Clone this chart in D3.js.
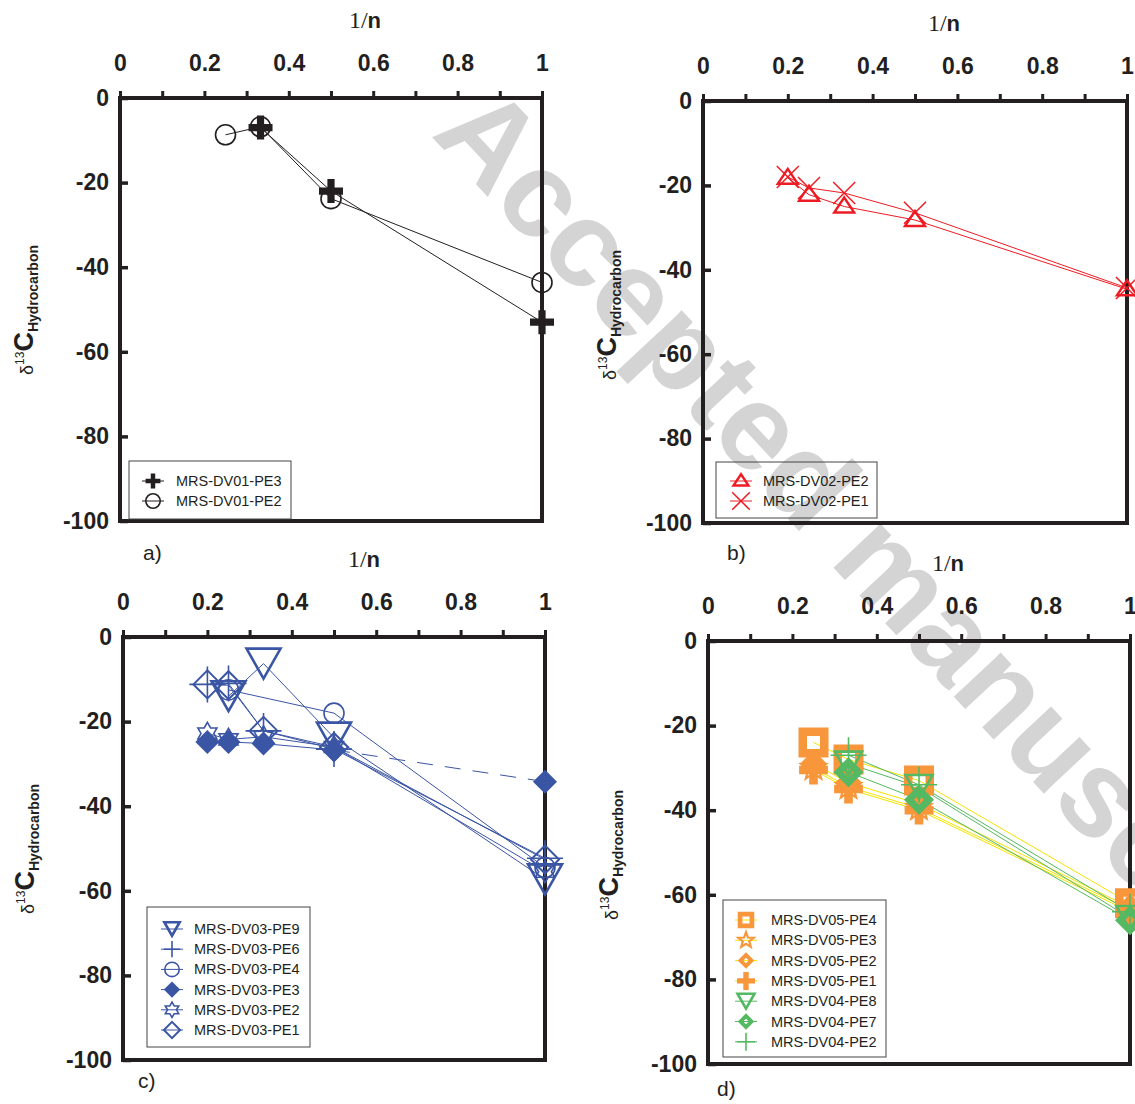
<!DOCTYPE html>
<html><head><meta charset="utf-8">
<script src="https://cdn.jsdelivr.net/npm/d3@7"></script>
<style>body{margin:0;background:#fff}svg{display:block}</style>
</head><body>
<svg id="chart" width="1135" height="1104"></svg>
<script>
// ---------- data ----------
const xTickValues = [0, 0.2, 0.4, 0.6, 0.8, 1];
const xMinorValues = [0, 0.1, 0.2, 0.3, 0.4, 0.5, 0.6, 0.7, 0.8, 0.9, 1];
const yTickValues = [0, -20, -40, -60, -80, -100];
const panelTags = ["a)", "b)", "c)", "d)"];
const watermarkText = "Accepted manuscript";

// panel a
const a_DV01_PE3 = [[0.333, -7], [0.5, -22], [1, -53]];
const a_DV01_PE2 = [[0.25, -8.7], [0.333, -6.8], [0.5, -23.8], [1, -43.6]];
// panel b
const b_DV02_PE2 = [[0.2, -18.2], [0.25, -22.2], [0.333, -25], [0.5, -28.2], [1, -44.6]];
const b_DV02_PE1 = [[0.2, -18], [0.25, -20.6], [0.333, -21.8], [0.5, -26.5], [1, -44.3]];
// panel c
const c_DV03_PE9 = [[0.25, -14], [0.333, -6.3], [0.5, -23.8], [1, -57.3]];
const c_DV03_PE6 = [[0.2, -11.2], [0.25, -11], [0.333, -22.2], [0.5, -26.5], [1, -52.3]];
const c_DV03_PE4 = [[0.25, -12.5], [0.5, -18], [1, -54.5]];
const c_DV03_PE3 = [[0.2, -24.8], [0.25, -24.8], [0.333, -25.2], [0.5, -26.7], [1, -34.2]];
const c_DV03_PE2 = [[0.2, -22.8], [0.25, -24.2], [0.333, -23.6], [0.5, -26], [1, -55.5]];
const c_DV03_PE1 = [[0.2, -11.2], [0.25, -11.4], [0.333, -22.2], [0.5, -26], [1, -52.6]];
// panel d
const d_DV05_PE4 = [[0.25, -24], [0.333, -28], [0.5, -33], [1, -62]];
const d_DV05_PE3 = [[0.25, -30], [0.333, -34.5], [0.5, -39.5], [1, -63.5]];
const d_DV05_PE2 = [[0.25, -29], [0.333, -33.5], [0.5, -38.5], [1, -63]];
const d_DV05_PE1 = [[0.25, -30.5], [0.333, -35], [0.5, -40], [1, -64]];
const d_DV04_PE8 = [[0.333, -29], [0.5, -34.5], [1, -65.5]];
const d_DV04_PE7 = [[0.333, -31], [0.5, -37.5], [1, -66]];
const d_DV04_PE2 = [[0.333, -27], [0.5, -34], [1, -64]];

// ---------- styles ----------
const INK = "#231f20", RED = "#ed1c24", BLUE = "#3a55a4", ORANGE = "#f7963a", YELLOW = "#f5e400", GREEN = "#55b862";
const SANS = "'Liberation Sans', Arial, sans-serif";
const SERIF = "'Liberation Serif', 'Times New Roman', serif";

const panels = [
  { frame: {x0:120, x1:542, y0:98, y1:521}, titleX:365, ylab:{x:33, y:310}, tag:{x:143, y:560},
    legend:{x:129, y:461, w:162, h:58, row0:481, dy:20, symX:153, textX:176},
    series: [
      {name:"MRS-DV01-PE3", data:a_DV01_PE3, type:"plusBold", color:INK, line:INK, size:1, lsize:0.62},
      {name:"MRS-DV01-PE2", data:a_DV01_PE2, type:"circle", color:INK, line:INK, size:1, lsize:0.72},
    ]},
  { frame: {x0:703, x1:1127, y0:101, y1:523}, titleX:944, ylab:{x:616, y:315}, tag:{x:727, y:560},
    legend:{x:716, y:462, w:161, h:56, row0:481, dy:20, symX:741, textX:763},
    series: [
      {name:"MRS-DV02-PE2", data:b_DV02_PE2, type:"triUp", color:RED, line:RED, size:1, lsize:0.75},
      {name:"MRS-DV02-PE1", data:b_DV02_PE1, type:"xCross", color:RED, line:RED, size:1, lsize:0.8},
    ]},
  { frame: {x0:123, x1:545, y0:637, y1:1060}, titleX:364, ylab:{x:34, y:849}, tag:{x:138, y:1088},
    legend:{x:147, y:907, w:163, h:140, row0:929, dy:20.2, symX:172, textX:194},
    series: [
      {name:"MRS-DV03-PE9", data:c_DV03_PE9, type:"triDown", color:BLUE, line:BLUE, size:1, lsize:0.45},
      {name:"MRS-DV03-PE6", data:c_DV03_PE6, type:"plusThin", color:BLUE, line:BLUE, size:1, lsize:0.45},
      {name:"MRS-DV03-PE4", data:c_DV03_PE4, type:"circle", color:BLUE, line:BLUE, size:1, lsize:0.72},
      {name:"MRS-DV03-PE3", data:c_DV03_PE3, type:"diamondFilled", color:BLUE, line:BLUE, size:1, lsize:0.68, dashLast:true},
      {name:"MRS-DV03-PE2", data:c_DV03_PE2, type:"star6", color:BLUE, line:BLUE, size:1, lsize:0.7},
      {name:"MRS-DV03-PE1", data:c_DV03_PE1, type:"diamondOpen", color:BLUE, line:BLUE, size:1, lsize:0.58},
    ]},
  { frame: {x0:708, x1:1130, y0:641, y1:1064}, titleX:948, ylab:{x:618, y:855}, tag:{x:717, y:1096},
    legend:{x:723, y:900, w:163, h:157, row0:920, dy:20.3, symX:746, textX:771},
    series: [
      {name:"MRS-DV05-PE4", data:d_DV05_PE4, type:"squareThick", color:ORANGE, line:YELLOW, size:1, lsize:0.55},
      {name:"MRS-DV05-PE3", data:d_DV05_PE3, type:"star5", color:ORANGE, line:YELLOW, size:1, lsize:0.62},
      {name:"MRS-DV05-PE2", data:d_DV05_PE2, type:"diamondHole", color:ORANGE, line:YELLOW, size:0.9, lsize:0.55},
      {name:"MRS-DV05-PE1", data:d_DV05_PE1, type:"plusBold", color:ORANGE, line:YELLOW, size:1.2, lsize:0.75},
      {name:"MRS-DV04-PE8", data:d_DV04_PE8, type:"triDown", color:GREEN, line:GREEN, size:0.8, lsize:0.5},
      {name:"MRS-DV04-PE7", data:d_DV04_PE7, type:"diamondHole", color:GREEN, line:GREEN, size:1, lsize:0.55},
      {name:"MRS-DV04-PE2", data:d_DV04_PE2, type:"plusThin", color:GREEN, line:GREEN, size:1, lsize:0.5},
    ]},
];
// draw order of markers (indices) per panel
const markerOrder = [[1,0],[0,1],[0,2,1,4,5,3],[3,2,1,0,4,6,5]];

// ---------- drawing ----------
const svg = d3.select("#chart");

// watermark (behind everything)
svg.append("text")
  .attr("transform", "translate(430,135) rotate(47)")
  .attr("font-family", SANS).attr("font-weight", "bold").attr("font-size", 122)
  .attr("fill", "#d4d4d4").text(watermarkText);

function starPath(n, R, r) {
  let p = [];
  for (let i = 0; i < 2 * n; i++) {
    const a = -Math.PI / 2 + i * Math.PI / n;
    const rr = i % 2 === 0 ? R : r;
    p.push([rr * Math.cos(a), rr * Math.sin(a)]);
  }
  return "M" + p.map(q => q[0].toFixed(2) + "," + q[1].toFixed(2)).join("L") + "Z";
}

function drawMarker(g, type, cx, cy, s, color) {
  const m = g.append("g").attr("transform", `translate(${cx},${cy})`);
  switch (type) {
    case "plusBold": {
      const L = 12 * s, T = 3.6 * s;
      m.append("path").attr("d", `M${-L},${-T}H${L}V${T}H${-L}Z M${-T},${-L}H${T}V${L}H${-T}Z`).attr("fill", color);
      break; }
    case "circle":
      m.append("circle").attr("r", 10 * s).attr("fill", "none").attr("stroke", color).attr("stroke-width", 1.6);
      break;
    case "triUp":
      m.append("path").attr("d", `M0,${-9 * s}L${10 * s},${6 * s}L${-10 * s},${6 * s}Z`)
        .attr("fill", "none").attr("stroke", color).attr("stroke-width", 2.4);
      break;
    case "xCross": {
      const d = 11 * s;
      m.append("path").attr("d", `M${-d},${-d}L${d},${d}M${-d},${d}L${d},${-d}`)
        .attr("stroke", color).attr("stroke-width", 1.5);
      break; }
    case "triDown":
      m.append("path").attr("d", `M${-17 * s},${-15 * s}L${17 * s},${-15 * s}L0,${15 * s}Z`)
        .attr("fill", "none").attr("stroke", color).attr("stroke-width", 2.6);
      break;
    case "plusThin": {
      const L = 18 * s;
      m.append("path").attr("d", `M${-L},0H${L}M0,${-L}V${L}`).attr("stroke", color).attr("stroke-width", 1.6);
      break; }
    case "diamondFilled": {
      const h = 12 * s;
      m.append("path").attr("d", `M0,${-h}L${h},0L0,${h}L${-h},0Z`).attr("fill", color);
      break; }
    case "star6":
      m.append("path").attr("d", starPath(6, 11 * s, 6.4 * s)).attr("fill", "none")
        .attr("stroke", color).attr("stroke-width", 1.6);
      break;
    case "diamondOpen": {
      const w = 14 * s, h = 14 * s;
      m.append("path").attr("d", `M0,${-h}L${w},0L0,${h}L${-w},0Z`).attr("fill", "none")
        .attr("stroke", color).attr("stroke-width", 2);
      break; }
    case "squareThick": {
      const o = 15 * s, i = 6.5 * s;
      m.append("path").attr("d", `M${-o},${-o}H${o}V${o}H${-o}Z M${-i},${-i}V${i}H${i}V${-i}Z`)
        .attr("fill", color).attr("fill-rule", "evenodd");
      break; }
    case "diamondHole": {
      const o = 15 * s, i = 5 * s;
      m.append("path").attr("d", `M0,${-o}L${o},0L0,${o}L${-o},0Z M0,${-i}L${-i},0L0,${i}L${i},0Z`)
        .attr("fill", color).attr("fill-rule", "evenodd");
      break; }
    case "star5":
      m.append("path").attr("d", starPath(5, 13 * s, 5.5 * s)).attr("fill", "none")
        .attr("stroke", color).attr("stroke-width", 2.2);
      break;
  }
}

panels.forEach((p, pi) => {
  const f = p.frame;
  const x = d3.scaleLinear().domain([0, 1]).range([f.x0, f.x1]);
  const y = d3.scaleLinear().domain([0, -100]).range([f.y0, f.y1]);
  const g = svg.append("g");

  // top x axis: minor ticks outward
  const xAxis = d3.axisTop(x).tickValues(xMinorValues).tickSize(7).tickFormat("");
  const gx = g.append("g").attr("transform", `translate(0,${f.y0})`).call(xAxis);
  gx.select(".domain").remove();
  gx.selectAll(".tick line").attr("stroke", INK).attr("stroke-width", 3);
  // x tick labels
  const xLab = d3.axisTop(x).tickValues(xTickValues).tickSize(0).tickPadding(27).tickFormat(d3.format("~g"));
  const gxl = g.append("g").attr("transform", `translate(0,${f.y0})`).call(xLab);
  gxl.select(".domain").remove();
  gxl.selectAll(".tick text").attr("font-family", SANS).attr("font-weight", "bold")
     .attr("font-size", 23).attr("fill", INK);

  // left y axis: inward ticks
  const yAxis = d3.axisLeft(y).tickValues(yTickValues).tickSize(-8).tickPadding(11).tickFormat(d3.format("d"));
  const gy = g.append("g").attr("transform", `translate(${f.x0},0)`).call(yAxis);
  gy.select(".domain").remove();
  gy.selectAll(".tick line").attr("stroke", INK).attr("stroke-width", 3.5);
  gy.selectAll(".tick text").attr("font-family", SANS).attr("font-weight", "bold")
     .attr("font-size", 23).attr("fill", INK).text(d => d === 0 ? "0" : "-" + Math.abs(d));

  // frame
  g.append("rect").attr("x", f.x0).attr("y", f.y0).attr("width", f.x1 - f.x0).attr("height", f.y1 - f.y0)
    .attr("fill", "none").attr("stroke", INK).attr("stroke-width", 4);

  // x title "1/n"
  const t = g.append("text").attr("x", p.titleX).attr("y", f.y0 - 70).attr("text-anchor", "middle").attr("fill", INK);
  t.append("tspan").attr("font-family", SERIF).attr("font-size", 24).text("1/");
  t.append("tspan").attr("font-family", SANS).attr("font-weight", "bold").attr("font-size", 22).text("n");

  // y title
  const yt = g.append("text").attr("transform", `translate(${p.ylab.x},${p.ylab.y}) rotate(-90)`)
    .attr("text-anchor", "middle").attr("fill", INK).attr("font-family", SANS);
  yt.append("tspan").attr("font-size", 18).text("δ");
  yt.append("tspan").attr("font-size", 12).attr("dy", -9).text("13");
  yt.append("tspan").attr("font-size", 27).attr("font-weight", "bold").attr("dy", 9).text("C");
  yt.append("tspan").attr("font-size", 14).attr("font-weight", "bold").attr("dy", 5).text("Hydrocarbon");

  // tag
  g.append("text").attr("x", p.tag.x).attr("y", p.tag.y).attr("font-family", SANS)
    .attr("font-size", 21).attr("fill", INK).text(panelTags[pi]);

  // lines
  const lineGen = d3.line().x(d => x(d[0])).y(d => y(d[1]));
  p.series.forEach(s => {
    if (s.dashLast) {
      const n = s.data.length;
      g.append("path").attr("d", lineGen(s.data.slice(0, n - 1))).attr("fill", "none")
        .attr("stroke", s.line).attr("stroke-width", 1);
      g.append("path").attr("d", lineGen(s.data.slice(n - 2))).attr("fill", "none")
        .attr("stroke", s.line).attr("stroke-width", 1).attr("stroke-dasharray", "16,12");
    } else {
      g.append("path").attr("d", lineGen(s.data)).attr("fill", "none")
        .attr("stroke", s.line).attr("stroke-width", 1);
    }
  });

  // markers
  markerOrder[pi].forEach(si => {
    const s = p.series[si];
    s.data.forEach(d => drawMarker(g, s.type, x(d[0]), y(d[1]), s.size, s.color));
  });

  // legend
  const L = p.legend;
  g.append("rect").attr("x", L.x).attr("y", L.y).attr("width", L.w).attr("height", L.h)
    .attr("fill", "none").attr("stroke", "#444").attr("stroke-width", 1);
  p.series.forEach((s, i) => {
    const cy = L.row0 + i * L.dy;
    g.append("line").attr("x1", L.symX - 11).attr("x2", L.symX + 11).attr("y1", cy).attr("y2", cy)
      .attr("stroke", s.line).attr("stroke-width", 1);
    drawMarker(g, s.type, L.symX, cy, s.lsize, s.color);
    g.append("text").attr("x", L.textX).attr("y", cy + 5).attr("font-family", SANS)
      .attr("font-size", 14.5).attr("fill", INK).text(s.name);
  });
});
</script>
</body></html>
